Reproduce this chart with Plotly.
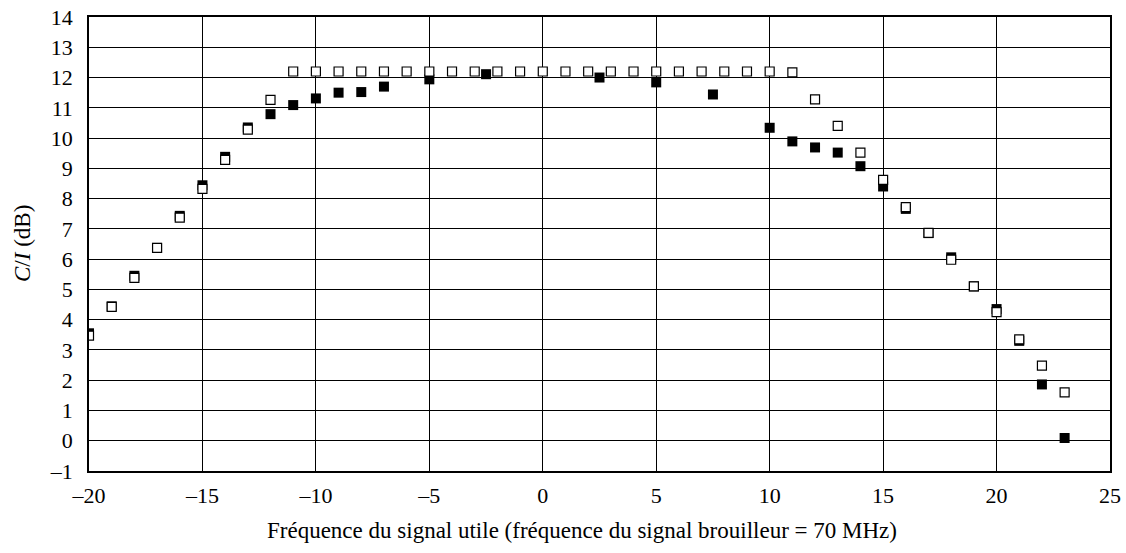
import plotly.graph_objects as go

# Open squares series
open_x = list(range(-20, 24))
open_y = [3.47, 4.42, 5.38, 6.37, 7.37, 8.32, 9.28, 10.28, 11.26,
          12.2, 12.2, 12.2, 12.2, 12.2, 12.2, 12.2, 12.2, 12.2, 12.2, 12.2,
          12.2, 12.2, 12.2, 12.2, 12.2, 12.2, 12.2, 12.2, 12.2, 12.2, 12.2,
          12.17, 11.28, 10.4, 9.52, 8.62, 7.72, 6.87, 5.98, 5.1, 4.25, 3.35, 2.48, 1.6]

# Filled squares series
filled_x = [-20, -19, -18, -17, -16, -15, -14, -13, -12, -11, -10, -9, -8, -7,
            -5, -2.5, 2.5, 5, 7.5, 10, 11, 12, 13, 14, 15, 16, 17, 18, 19, 20, 21, 22, 23]
filled_y = [3.55, 4.44, 5.45, 6.37, 7.43, 8.44, 9.38, 10.35, 10.79, 11.09, 11.31, 11.5, 11.52, 11.7,
            11.94, 12.11, 12.0, 11.84, 11.44, 10.34, 9.89, 9.69, 9.52, 9.07, 8.4, 7.66, 6.86, 6.06,
            5.1, 4.35, 3.3, 1.86, 0.09]

x_ticks = [-20, -15, -10, -5, 0, 5, 10, 15, 20, 25]
x_ticktext = ["–20", "–15", "–10", "–5", "0", "5", "10", "15", "20", "25"]
y_ticks = list(range(-1, 15))
y_ticktext = ["–1"] + [str(v) for v in range(0, 15)]

x_title = "Fréquence du signal utile (fréquence du signal brouilleur = 70 MHz)"
y_title = "<i>C</i>/<i>I</i> (dB)"

FONT = "Liberation Serif"

fig = go.Figure()
fig.add_trace(go.Scatter(
    x=filled_x, y=filled_y, mode="markers",
    marker=dict(symbol="square", size=10, color="black", line=dict(width=0)),
    showlegend=False))
fig.add_trace(go.Scatter(
    x=open_x, y=open_y, mode="markers",
    marker=dict(symbol="square", size=9, color="white", line=dict(width=1.2, color="black")),
    showlegend=False))

fig.update_layout(
    width=1126, height=553,
    margin=dict(l=89, r=16, t=17, b=82),
    paper_bgcolor="white", plot_bgcolor="white",
    font=dict(family=FONT, size=22, color="black"),
    xaxis=dict(range=[-20, 25], tickvals=x_ticks, ticktext=x_ticktext,
               showgrid=True, gridcolor="black", gridwidth=1,
               showline=True, linecolor="black", linewidth=1.5, mirror=True,
               zeroline=False, ticks="", ticklabelstandoff=4, automargin=False,
               tickfont=dict(family=FONT, size=22)),
    yaxis=dict(range=[-1, 14], tickvals=y_ticks, ticktext=y_ticktext,
               showgrid=True, gridcolor="black", gridwidth=1,
               showline=True, linecolor="black", linewidth=1.5, mirror=True,
               zeroline=False, ticks="", ticklabelstandoff=10, automargin=False,
               tickfont=dict(family=FONT, size=22)),
    annotations=[
        dict(text=x_title, xref="paper", yref="paper", x=0.5, y=0,
             xanchor="center", yanchor="middle", xshift=-18, yshift=-59,
             showarrow=False, font=dict(family=FONT, size=23)),
        dict(text=y_title, xref="paper", yref="paper", x=0, y=0.5,
             xanchor="center", yanchor="middle", xshift=-67, textangle=-90,
             showarrow=False, font=dict(family=FONT, size=23)),
    ],
)

fig.write_html("out.html")
